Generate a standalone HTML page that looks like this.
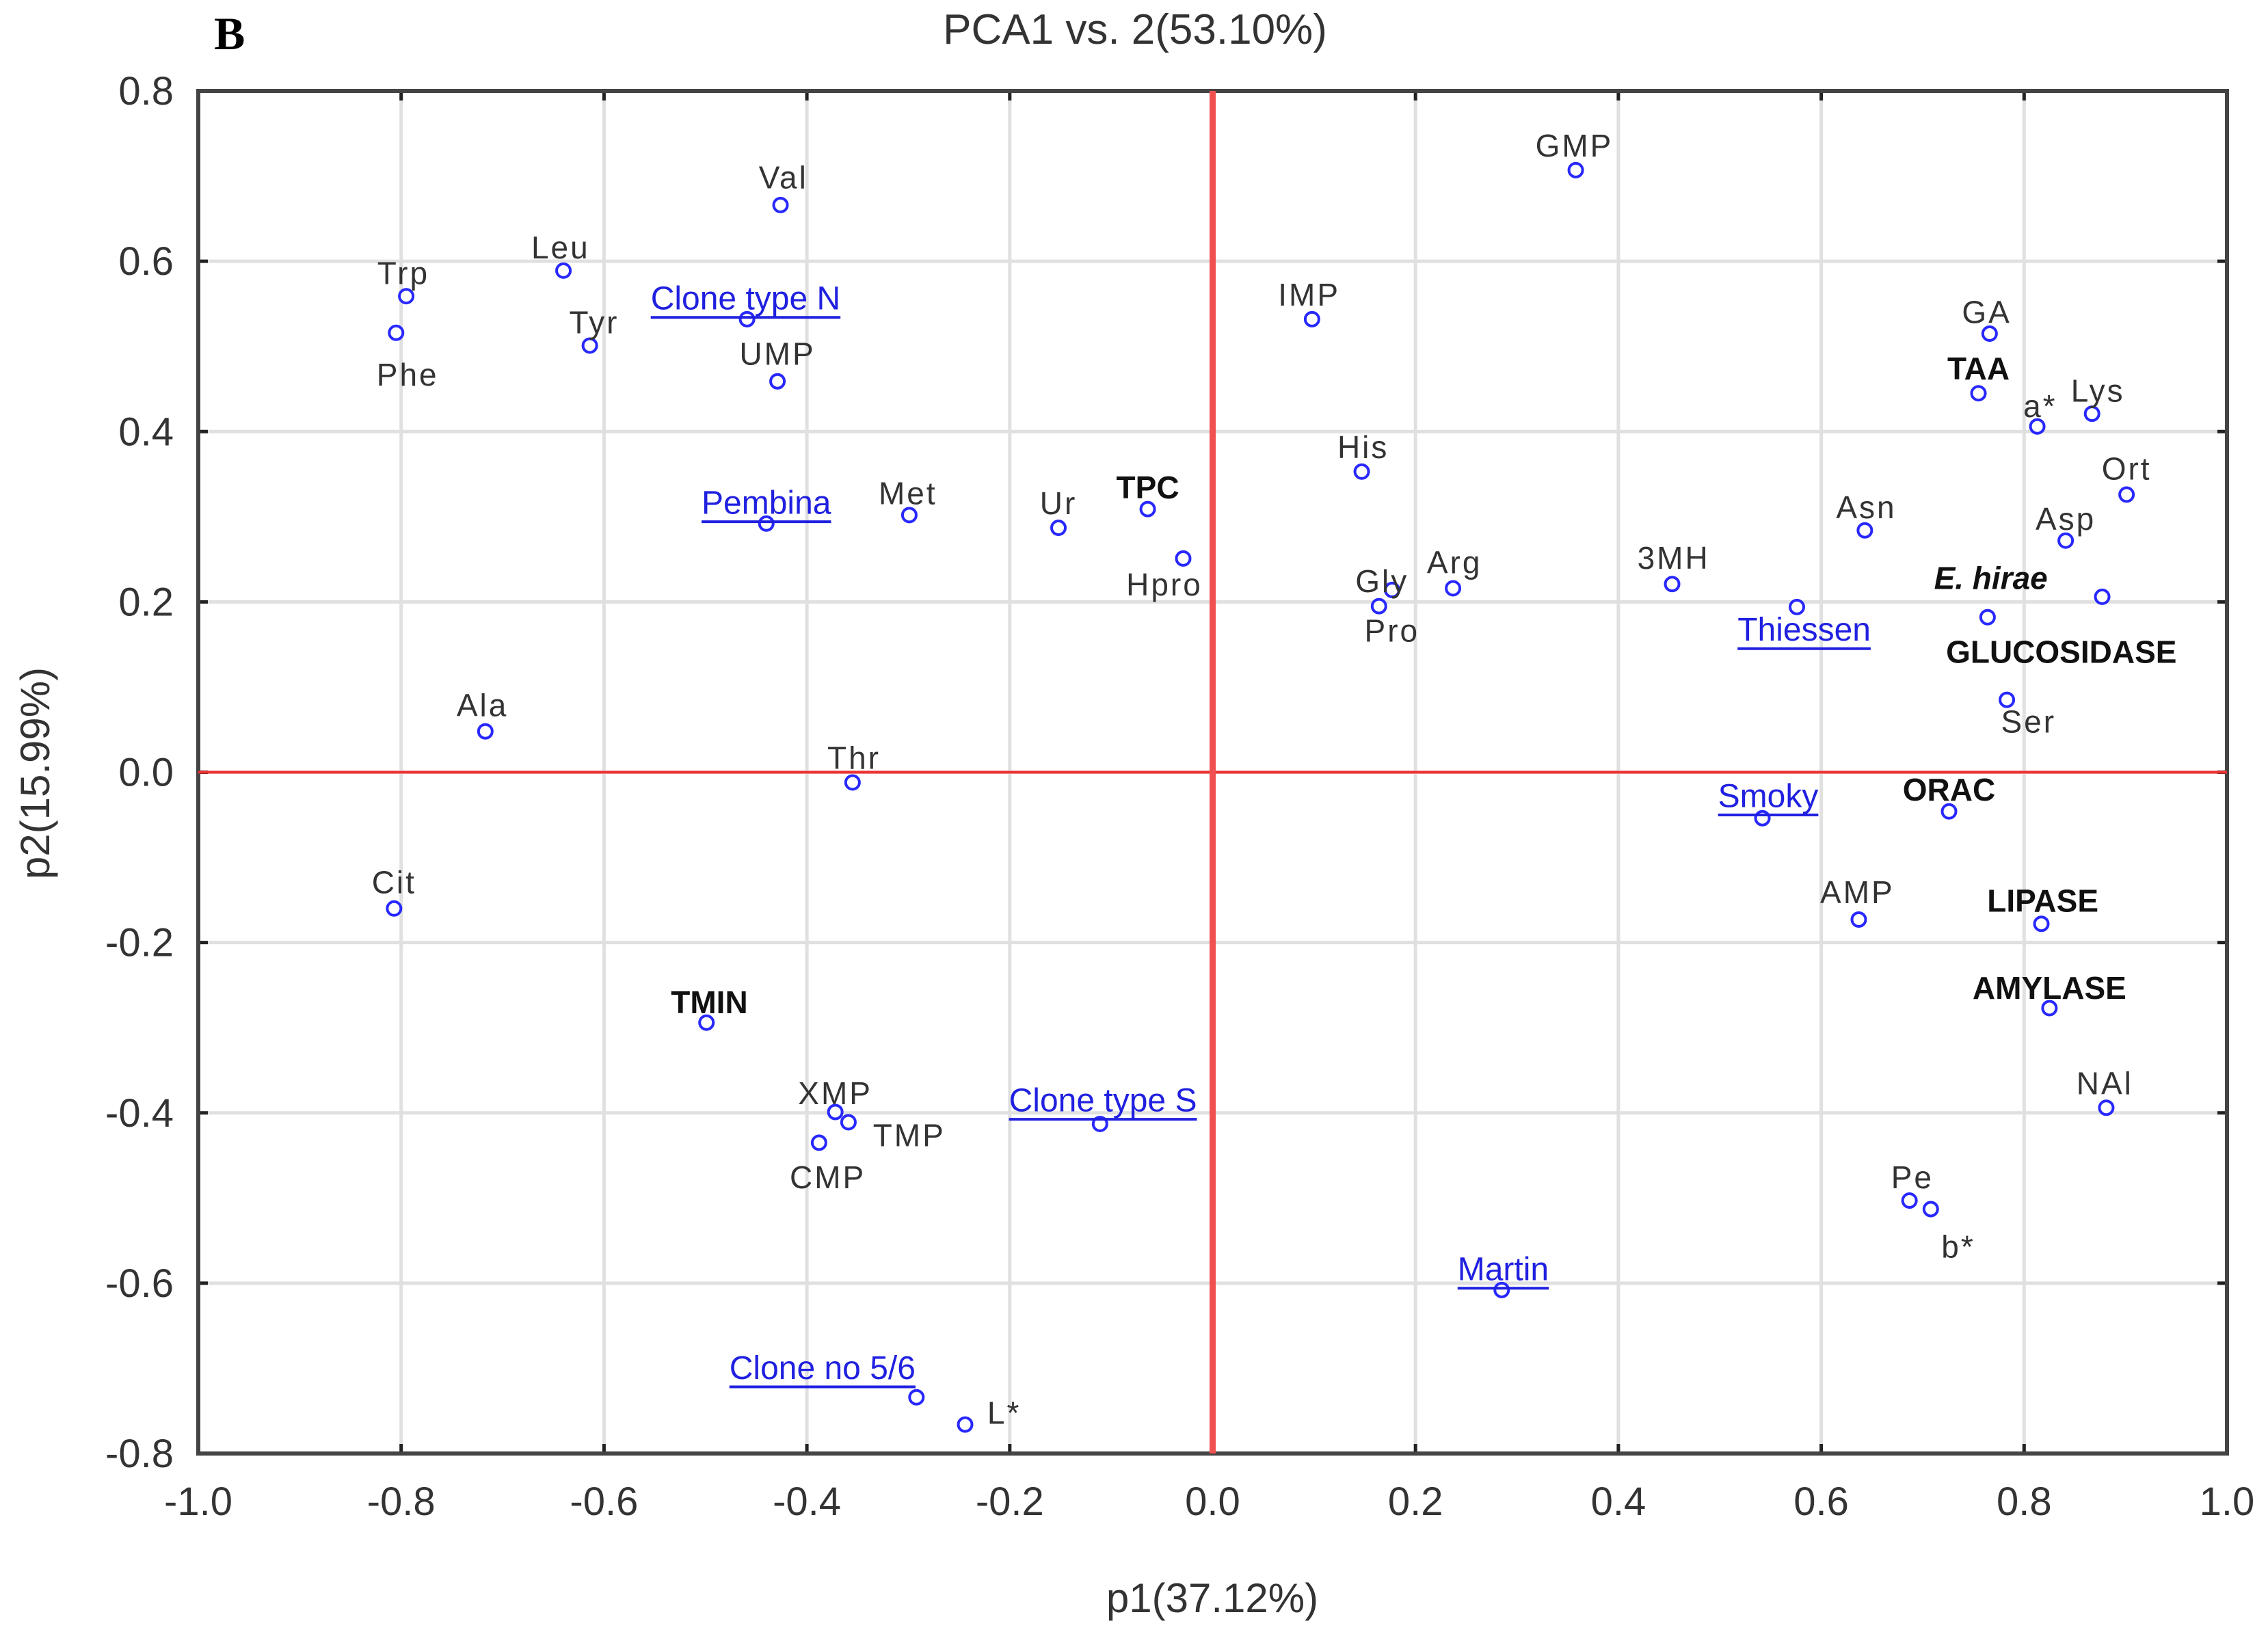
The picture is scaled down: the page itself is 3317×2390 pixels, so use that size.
<!DOCTYPE html>
<html><head><meta charset="utf-8"><style>
html,body{margin:0;padding:0;background:#fff;}
svg{display:block;font-family:"Liberation Sans",sans-serif;}
</style></head><body>
<svg id="chart" width="3317" height="2390" viewBox="0 0 3317 2390" xmlns="http://www.w3.org/2000/svg">
<text x="313" y="72" font-family="Liberation Serif,serif" font-weight="bold" font-size="68" fill="#000">B</text>
<text x="1660" y="64" font-size="62" fill="#333" text-anchor="middle">PCA1 vs. 2(53.10%)</text>
<text x="1773" y="2358" font-size="60" fill="#333" text-anchor="middle">p1(37.12%)</text>
<text x="0" y="0" font-size="60" fill="#333" text-anchor="middle" transform="translate(72,1131) rotate(-90)">p2(15.99%)</text>
<g id="grid"></g><g id="axes"></g><g id="marks"></g>
</svg>
<script>
const xTicks=[-1.0,-0.8,-0.6,-0.4,-0.2,0.0,0.2,0.4,0.6,0.8,1.0];
const yTicks=[-0.8,-0.6,-0.4,-0.2,0.0,0.2,0.4,0.6,0.8];
const labels=["Trp","Phe","Leu","Tyr","Val","Clone type N","UMP","Pembina","Met","Ur","TPC","Hpro","IMP","GMP","His","Gly","Pro","Arg","3MH","Asn","GA","TAA","a*","Lys","Ort","Asp","E. hirae","Thiessen","GLUCOSIDASE","Ser","Smoky","ORAC","AMP","LIPASE","AMYLASE","NAl","Pe","b*","Martin","Clone type S","Clone no 5/6","L*","XMP","TMP","CMP","TMIN","Thr","Ala","Cit"];
const p1=[-0.795,-0.805,-0.64,-0.614,-0.426,-0.459,-0.429,-0.44,-0.299,-0.152,-0.064,-0.029,0.098,0.358,0.147,0.177,0.164,0.237,0.453,0.643,0.766,0.755,0.813,0.867,0.901,0.841,0.877,0.576,0.764,0.783,0.542,0.726,0.637,0.817,0.825,0.881,0.687,0.708,0.285,-0.111,-0.292,-0.244,-0.372,-0.359,-0.388,-0.499,-0.355,-0.717,-0.807];
const p2=[0.559,0.516,0.589,0.501,0.666,0.532,0.459,0.292,0.302,0.287,0.309,0.251,0.532,0.707,0.353,0.214,0.195,0.216,0.221,0.284,0.515,0.445,0.406,0.421,0.326,0.272,0.206,0.194,0.182,0.085,-0.054,-0.046,-0.173,-0.178,-0.277,-0.394,-0.503,-0.513,-0.608,-0.413,-0.734,-0.766,-0.399,-0.411,-0.435,-0.294,-0.012,0.048,-0.16];
const kind=["n","n","n","n","n","c","n","c","n","n","b","n","n","n","n","n","n","n","n","n","n","b","n","n","n","n","i","c","b","n","c","b","n","b","b","n","n","n","c","c","c","n","n","n","n","b","n","n","n"];
// label offsets (display px, style only)
const offs=[[-2,-16],[8,29],[-2,-16],[3,-16],[2,-19],[-1,-14],[0,-19],[0,-14],[-1,-15],[0,-17],[0,-15],[-13,18],[-2,-17],[-1,-17],[1,-17],[-7,-6],[9,17],[1,-18],[1,-18],[1,-16],[-2,-15],[0,-17],[2,-14],[4,-16],[0,-18],[0,-15],[-77,-13],[5,16],[51,24],[15,15],[4,-15],[0,-15],[-1,-19],[1,-16],[0,-14],[-1,-17],[2,-16],[19,26],[1,-14],[2,-16],[-65,-20],[27,-8],[0,-13],[42,9],[6,24],[2,-14],[1,-17],[-2,-18],[0,-18]];
const L=290,R=3257,T=133,B=2126,S=2.115;
const X=v=>L+(v+1)/2*(R-L);
const Y=v=>B-(v+0.8)/1.6*(B-T);
const NS="http://www.w3.org/2000/svg";
function mk(tag,attrs,parent){const e=document.createElementNS(NS,tag);for(const k in attrs)e.setAttribute(k,attrs[k]);parent.appendChild(e);return e;}
const grid=document.getElementById('grid'),axes=document.getElementById('axes'),marks=document.getElementById('marks');
xTicks.forEach(t=>{
 const g=mk('line',{x1:X(t),x2:X(t),y1:T,y2:B,stroke:'#e0e0e0','stroke-width':5},grid);
 
 
 const tk=mk('line',{x1:X(t),x2:X(t),y1:B,y2:B-14,stroke:'#222','stroke-width':5},axes);
 
 
 const tk2=mk('line',{x1:X(t),x2:X(t),y1:T,y2:T+14,stroke:'#222','stroke-width':5},axes);
 
 
 const tx=mk('text',{x:X(t),y:B+90,'font-size':58,fill:'#333','text-anchor':'middle'},axes);
 tx.textContent=t.toFixed(1);
 
 
});
yTicks.forEach(t=>{
 const g=mk('line',{x1:L,x2:R,y1:Y(t),y2:Y(t),stroke:'#e0e0e0','stroke-width':5},grid);
 
 
 const tk=mk('line',{x1:L,x2:L+14,y1:Y(t),y2:Y(t),stroke:'#222','stroke-width':5},axes);
 
 
 const tk2=mk('line',{x1:R,x2:R-14,y1:Y(t),y2:Y(t),stroke:'#222','stroke-width':5},axes);
 
 
 const tx=mk('text',{x:L-36,y:Y(t)+20,'font-size':58,fill:'#333','text-anchor':'end'},axes);
 tx.textContent=t.toFixed(1);
 
 
});
const fr=mk('rect',{x:L,y:T,width:R-L,height:B-T,fill:'none',stroke:'#444','stroke-width':6},axes);


const hz=mk('line',{x1:L,x2:R,y1:Y(0),y2:Y(0),stroke:'#f03030','stroke-width':4},axes);


const vz=mk('line',{x1:X(0),x2:X(0),y1:T,y2:B,stroke:'#f05050','stroke-width':9},axes);


labels.forEach((lab,i)=>{
 const cx=X(p1[i]),cy=Y(p2[i]);
 const c=mk('circle',{cx:cx,cy:cy,r:10,fill:'#fff',stroke:'#2828ff','stroke-width':4},marks);
 
 
 const k=kind[i];
 const tx=cx+offs[i][0]*S, ty=cy+offs[i][1]*S;
 const a={x:tx,y:ty,'font-size':k==='c'?48:46,'text-anchor':'middle','dominant-baseline':'central',fill:k==='c'?'#2020e0':'#333'};
 if(k==='b'||k==='i'){a['font-weight']='bold';a.fill='#111';}
 if(k==='i')a['font-style']='italic';
 if(k!=='c'&&k!=='b'&&k!=='i')a['letter-spacing']='3';
 const t=mk('text',a,marks);
 t.textContent=lab;
 
 
 if(k==='c'){
  const w=t.getComputedTextLength();
  const u=mk('line',{x1:tx-w/2,x2:tx+w/2,y1:ty+27,y2:ty+27,stroke:'#2020e0','stroke-width':4},marks);
  
  
 }
});
</script>
</body></html>
